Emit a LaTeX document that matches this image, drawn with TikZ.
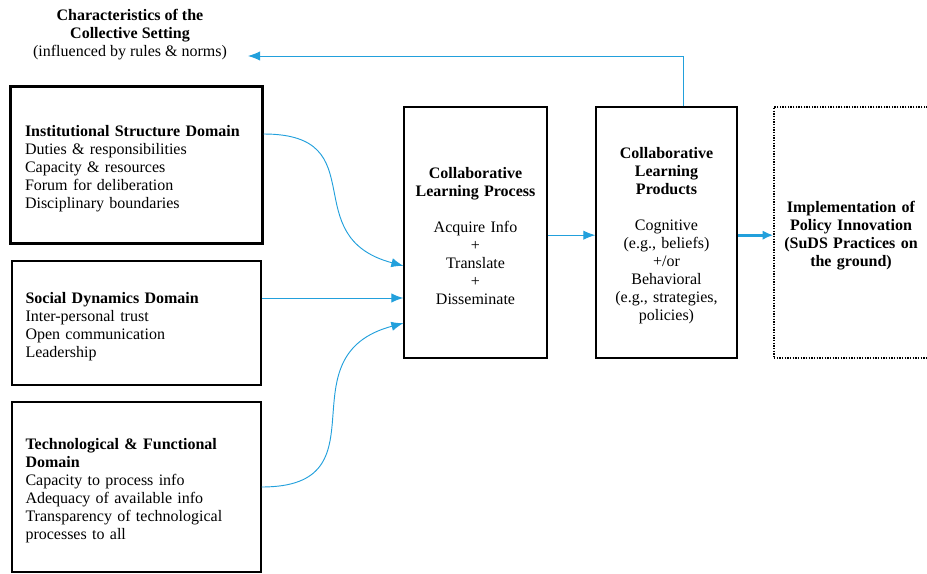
\documentclass[tikz,border=0pt]{standalone}
\usepackage{fontspec}
\setmainfont{Liberation Serif}
\usetikzlibrary{arrows.meta}
\definecolor{linkblue}{RGB}{34,160,220}
\tikzset{
  txt/.style={font=\fontsize{12}{13.5}\selectfont},
  lowered/.style={execute at begin node={\rule{0pt}{13.5pt}}},
  domainbox/.style={txt, lowered, draw, line width=1pt, align=left, inner xsep=0pt},
  stagebox/.style={txt, lowered, draw, line width=1pt, align=center, inner xsep=0pt, text width=100pt,
    minimum height=188.25pt, minimum width=106.5pt},
  link/.style={draw=linkblue, line width=0.7pt, -{Latex[length=9pt,width=7pt]}}
}
\begin{document}
\begin{tikzpicture}[x=0.75pt,y=-0.75pt]
        \useasboundingbox (0,0) rectangle (927,574);

        \node[txt, align=center] (setting) at (130,34.5) {\textbf{Characteristics of the}\\ \textbf{Collective Setting}\\ (influenced by rules \& norms)};
        \coordinate (settingtip) at (248,56);

        \node[domainbox, line width=2.25pt, minimum width=189pt, minimum height=117pt, text width=166.5pt] (inst) at (136,165) {\textbf{Institutional Structure Domain}\\ Duties \& responsibilities\\ Capacity \& resources\\ Forum for deliberation\\ Disciplinary boundaries};
        \node[domainbox, minimum width=186.75pt, minimum height=93pt, text width=166.5pt] (social) at (136.5,323) {\textbf{Social Dynamics Domain}\\ Inter-personal trust\\ Open communication\\ Leadership};
        \node[domainbox, minimum width=186.75pt, minimum height=127.5pt, text width=166.5pt] (tech) at (136.5,487) {\textbf{Technological \& Functional}\\ \textbf{Domain}\\ Capacity to process info\\ Adequacy of available info\\ Transparency of technological\\ processes to all};

        \node[stagebox, minimum width=107.25pt] (process) at (475.5,232.5) {\textbf{Collaborative}\\ \textbf{Learning Process}\\[13.5pt] Acquire Info\\ +\\ Translate\\ +\\ Disseminate};
        \node[stagebox, minimum width=105.75pt] (products) at (666.5,232.5) {\textbf{Collaborative}\\ \textbf{Learning}\\ \textbf{Products}\\[13.5pt] Cognitive\\ (e.g., beliefs)\\ +/or\\ Behavioral\\ (e.g., strategies,\\ policies)};
        \node[stagebox, densely dotted, minimum width=115.5pt, text width=112pt] (policy) at (851,232.5) {\textbf{Implementation of}\\ \textbf{Policy Innovation}\\ \textbf{(SuDS Practices on}\\ \textbf{the ground)}};

        \draw[link] ([yshift=23.25pt]inst.east) to[out=0, in=165, looseness=1.5] ([yshift=-25pt]process.west);
        \draw[link] ([yshift=18.75pt]social.east) -- ([yshift=18.75pt]social.east -| process.west);
        \draw[link] (tech.east) to[out=0, in=195, looseness=1.5] ([yshift=-68pt]process.west);
        \draw[link] ([yshift=-2pt]process.east) -- ([yshift=-2pt]products.west);
        \draw[link, line width=2pt, -{Latex[length=8pt,width=7pt]}] ([yshift=-2pt]products.east) -- ([yshift=-2pt]policy.west);
        \draw[link] ([xshift=13pt]products.north) |- (settingtip);
\end{tikzpicture}
\end{document}
